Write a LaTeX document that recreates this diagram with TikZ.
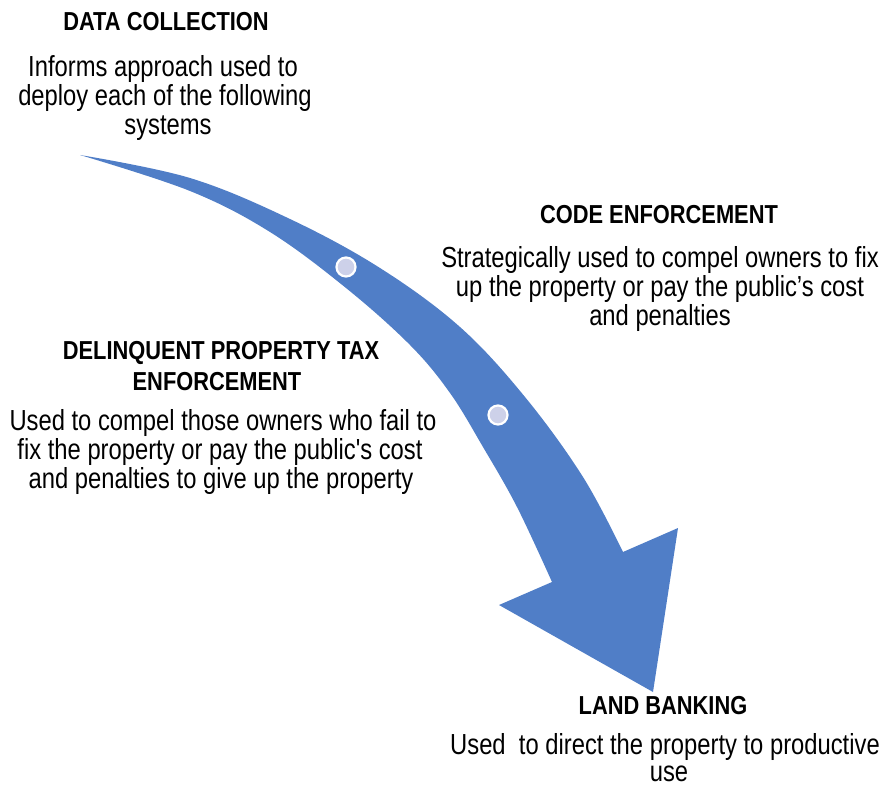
\documentclass[tikz,border=0pt]{standalone}
\usepackage{fontspec}
\newfontfamily\bodyfont{Liberation Sans}[FakeStretch=0.82]
\newfontfamily\titlefont{Liberation Sans}[FakeStretch=0.84]
\definecolor{arrowblue}{RGB}{80,126,199}
\definecolor{dotfill}{RGB}{205,209,233}
\begin{document}
\begin{tikzpicture}[x=1pt,y=-1pt,
  ttl/.style={font=\titlefont\fontsize{26}{28}\selectfont\bfseries, anchor=base, inner sep=0pt, text=black},
  bdy/.style={font=\bodyfont\fontsize{29}{30}\selectfont, anchor=base, inner sep=0pt, text=black},
  dot/.style={circle, fill=dotfill, draw=white, line width=2.2pt, minimum size=19pt, inner sep=0pt}]
\useasboundingbox (0,0) rectangle (882,786);
% curved arrow
\fill[arrowblue]
  plot[smooth, tension=0.6] coordinates {(80,155) (190,178) (290,219) (380,268) (460,327) (525,397) (583,477) (623,552)}
  -- (678,528) -- (653,692) -- (499,605)
  -- plot[smooth, tension=0.6] coordinates {(552,582) (517,507) (483,447) (450,393) (410,345) (346,288) (270,232) (190,191) (80,155)}
  -- cycle;
\node[dot] (c1) at (346,267) {};
\node[dot] (c2) at (498,415) {};
% data collection
\node[ttl] (t1) at (166,31) {DATA COLLECTION};
\node[bdy] (b1a) at (163,77) {Informs approach used to};
\node[bdy] (b1b) at (165,106) {deploy each of the following};
\node[bdy] (b1c) at (168,135) {systems};
% code enforcement
\node[ttl] (t2) at (659,223) {CODE ENFORCEMENT};
\node[bdy] (b2a) at (660,267) {Strategically used to compel owners to fix};
\node[bdy] (b2b) at (660,296) {up the property or pay the public’s cost};
\node[bdy] (b2c) at (660,325) {and penalties};
% delinquent
\node[ttl] (t3a) at (221,359) {DELINQUENT PROPERTY TAX};
\node[ttl] (t3b) at (217,390) {ENFORCEMENT};
\node[bdy] (b3a) at (223,430) {Used to compel those owners who fail to};
\node[bdy] (b3b) at (220,459) {fix the property or pay the public's cost};
\node[bdy] (b3c) at (221,488) {and penalties to give up the property};
% land banking
\node[ttl] (t4) at (663,714) {LAND BANKING};
\node[bdy] (b4a) at (665,754) {Used\ \ to direct the property to productive};
\node[bdy] (b4b) at (669,781) {use};
\end{tikzpicture}
\end{document}
